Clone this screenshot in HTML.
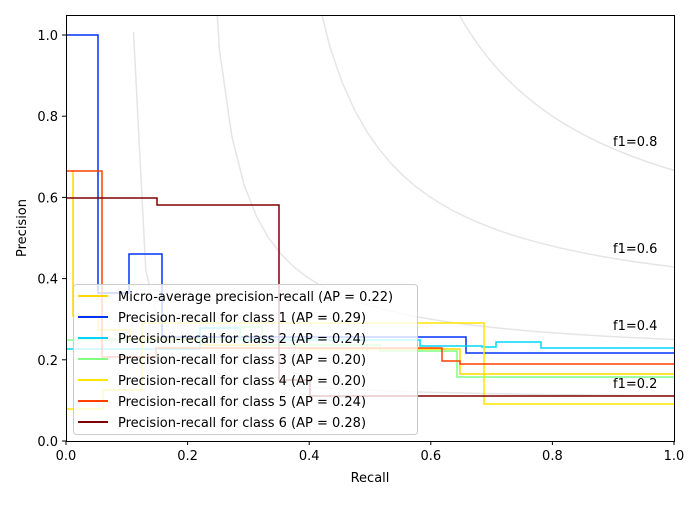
<!DOCTYPE html>
<html><head><style>
body{margin:0;background:#fff;}
svg text{font-family:"DejaVu Sans","Liberation Sans",sans-serif;font-size:13px;}
</style></head><body>
<svg id="s" width="700" height="500" xmlns="http://www.w3.org/2000/svg">
<defs><clipPath id="c"><rect x="66" y="15" width="608" height="426"/></clipPath></defs>
<rect width="700" height="500" fill="#fff"/>
<g id="iso" clip-path="url(#c)" fill="none" stroke="#000" stroke-opacity="0.1" stroke-width="1.5"></g>
<g clip-path="url(#c)" fill="none" stroke-width="1.5">
<path stroke="#ffd700" d="M73,170 V316 H98 V330 H130 V339 H200 V345 H300 V349 H460 V374 H674"/>
<path stroke="#0033ff" d="M66,35 H98 V293 H129 V254 H162 V337 H466 V353 H674"/>
<path stroke="#00d5ff" d="M66,349 H200 V328 H240 V340 H420 V346 H482 V347 H496 V342 H541 V348 H674"/>
<path stroke="#80ff80" d="M66,340 H240 V327 H262 V345 H380 V351 H457 V377 H674"/>
<path stroke="#ffe600" d="M66,409 H103 V390 H142 V323 H484 V404 H674"/>
<path stroke="#ff4000" d="M66,171 H102 V357 H156 V348 H442 V361 H460 V364 H674"/>
<path stroke="#800000" d="M66,198 H157 V205 H279 V380 H310 V396 H674"/>
</g>
<g fill="#000">
<text x="613" y="146">f1=0.8</text>
<text x="613" y="253">f1=0.6</text>
<text x="613" y="330">f1=0.4</text>
<text x="613" y="388">f1=0.2</text>
</g>
<rect x="66.5" y="15.5" width="608" height="426" fill="none" stroke="#000" stroke-width="1"/>
<g stroke="#000" stroke-width="1">
<line x1="66" y1="441" x2="66" y2="445"/><line x1="187.6" y1="441" x2="187.6" y2="445"/><line x1="309.2" y1="441" x2="309.2" y2="445"/><line x1="430.8" y1="441" x2="430.8" y2="445"/><line x1="552.4" y1="441" x2="552.4" y2="445"/><line x1="674" y1="441" x2="674" y2="445"/>
<line x1="62" y1="441" x2="66" y2="441"/><line x1="62" y1="359.8" x2="66" y2="359.8"/><line x1="62" y1="278.6" x2="66" y2="278.6"/><line x1="62" y1="197.4" x2="66" y2="197.4"/><line x1="62" y1="116.2" x2="66" y2="116.2"/><line x1="62" y1="35" x2="66" y2="35"/>
</g>
<g fill="#000" text-anchor="middle">
<text x="66" y="460">0.0</text><text x="187.6" y="460">0.2</text><text x="309.2" y="460">0.4</text><text x="430.8" y="460">0.6</text><text x="552.4" y="460">0.8</text><text x="674" y="460">1.0</text>
<text x="370" y="482">Recall</text>
</g>
<g fill="#000" text-anchor="end">
<text x="58" y="446">0.0</text><text x="58" y="364.8">0.2</text><text x="58" y="283.6">0.4</text><text x="58" y="202.4">0.6</text><text x="58" y="121.2">0.8</text><text x="58" y="40">1.0</text>
</g>
<text transform="translate(26,228) rotate(-90)" text-anchor="middle" fill="#000">Precision</text>
<rect x="73.5" y="284.5" width="344" height="150" rx="3" fill="#fff" fill-opacity="0.8" stroke="#ccc"/>
<g stroke-width="2">
<line x1="78" y1="296" x2="108" y2="296" stroke="#ffd700"/>
<line x1="78" y1="317" x2="108" y2="317" stroke="#0033ff"/>
<line x1="78" y1="338" x2="108" y2="338" stroke="#00d5ff"/>
<line x1="78" y1="359" x2="108" y2="359" stroke="#80ff80"/>
<line x1="78" y1="380" x2="108" y2="380" stroke="#ffe600"/>
<line x1="78" y1="401" x2="108" y2="401" stroke="#ff4000"/>
<line x1="78" y1="422" x2="108" y2="422" stroke="#800000"/>
</g>
<g fill="#000">
<text x="118" y="301">Micro-average precision-recall (AP = 0.22)</text>
<text x="118" y="322">Precision-recall for class 1 (AP = 0.29)</text>
<text x="118" y="343">Precision-recall for class 2 (AP = 0.24)</text>
<text x="118" y="364">Precision-recall for class 3 (AP = 0.20)</text>
<text x="118" y="385">Precision-recall for class 4 (AP = 0.20)</text>
<text x="118" y="406">Precision-recall for class 5 (AP = 0.24)</text>
<text x="118" y="427">Precision-recall for class 6 (AP = 0.28)</text>
</g>
</svg>
<script>
var g=document.getElementById('iso');
[0.2,0.4,0.6,0.8].forEach(function(f){
var d='';
for(var i=0;i<50;i++){var x=0.01+i*0.99/49;var y=f*x/(2*x-f);if(y<0||2*x-f<=0)continue;
var px=66+x*608,py=441-y*406;d+=(d?'L':'M')+px.toFixed(1)+','+py.toFixed(1);}
var p=document.createElementNS('http://www.w3.org/2000/svg','path');p.setAttribute('d',d);g.appendChild(p);});
</script>
</body></html>
